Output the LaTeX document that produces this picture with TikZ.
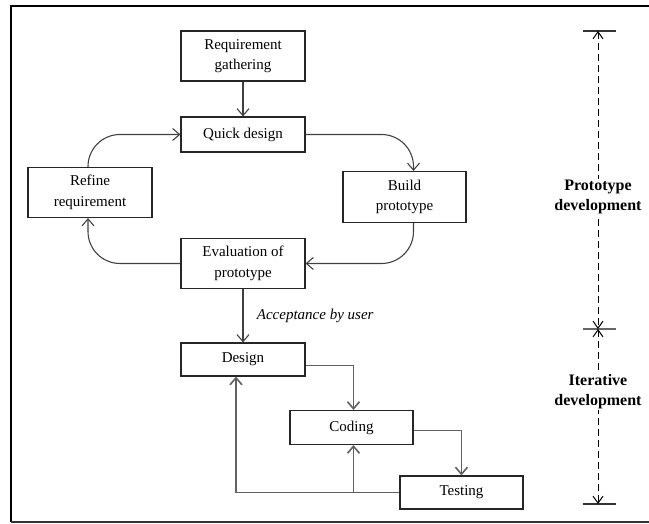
\documentclass[tikz,border=0pt]{standalone}
\usepackage{fontspec}
\setmainfont{Liberation Serif}
\usepackage{tikz}
\usetikzlibrary{arrows.meta}

\begin{document}
\begin{tikzpicture}[x=1pt,y=-1pt,
	box/.style={draw=black!85,line width=1.1pt,inner sep=0pt,align=center,font=\fontsize{15}{20.5}\selectfont},
	conn/.style={draw=black!75,line width=1.1pt,-{Straight Barb[length=7pt,width=12pt]}},
	iterconn/.style={draw=black!62,line width=1.6pt,-{Straight Barb[length=7pt,width=12pt]}},
	phase/.style={fill=white,inner sep=1pt,align=center,font=\fontsize{16}{20}\selectfont\bfseries}]
				\useasboundingbox (0,0) rectangle (649,524);
				\draw[line width=2.6pt] (649,6) -- (11,6) -- (11,522);
				\draw[line width=1.8pt,black!80] (11,522) -- (649,522);
				
				\node[box,minimum width=124,minimum height=50] (reqgat) at (243,56) {Requirement\\gathering};
				\node[box,minimum width=124,minimum height=35] (quick) at (243,134.5) {Quick design};
				\node[box,minimum width=124,minimum height=50] (refine) at (90,192.5) {Refine\\requirement};
				\node[box,minimum width=123,minimum height=51] (build) at (404.5,197) {Build\\prototype};
				\node[box,minimum width=124,minimum height=50] (eval) at (243,263.5) {Evaluation of\\prototype};
				
				\node[box,minimum width=124,minimum height=33] (design) at (243,359.5) {Design};
				\node[box,minimum width=123,minimum height=34] (coding) at (351.5,427.5) {Coding};
				\node[box,minimum width=123,minimum height=33] (testing) at (461.5,492.5) {Testing};
				
				\draw[conn] (reqgat) -- (quick);
				\draw[conn,rounded corners=32pt] (quick.east) -| ([xshift=9]build.north);
				\draw[conn,rounded corners=32pt] ([xshift=9]build.south) |- (eval.east);
				\draw[conn,rounded corners=32pt] (eval.west) -| ([xshift=-2]refine.south);
				\draw[conn,rounded corners=32pt] ([xshift=-2]refine.north) |- (quick.west);
				\draw[conn] (eval) -- (design) node[midway,right=10pt,font=\fontsize{15}{20}\selectfont\itshape] {Acceptance by user};
				
				\draw[iterconn] ([yshift=-6]design.east) -| ([xshift=2]coding.north);
				\draw[iterconn] ([yshift=-3]coding.east) -| (testing.north);
				\draw[iterconn] (testing.west) -| ([xshift=-7]design.south);
				\draw[iterconn] ([xshift=2]coding.south |- testing.west) -- ([xshift=2]coding.south);
				
				\coordinate (ptop) at (598,31);
				\coordinate (pmid) at (598,329);
				\coordinate (pbot) at (598,504);
				\draw[line width=1.2pt,black!80] ([xshift=-15]ptop) -- ([xshift=18]ptop);
				\draw[line width=1.2pt,black!60] ([xshift=-15]pmid) -- ([xshift=18]pmid);
				\draw[line width=1.2pt,black!80] ([xshift=-15]pbot) -- ([xshift=18]pbot);
				\draw[line width=1pt,dash pattern=on 7pt off 4pt,{Straight Barb[length=7pt,width=10pt]}-{Straight Barb[length=7pt,width=10pt]}] (ptop) -- (pmid);
				\draw[line width=1pt,dash pattern=on 7pt off 4pt,{Straight Barb[length=7pt,width=10pt]}-{Straight Barb[length=7pt,width=10pt]}] (pmid) -- (pbot);
				\node[phase] (protodev) at (598,197) {Prototype\\development};
				\node[phase] (iterdev) at (598,392) {Iterative\\development};
			\end{tikzpicture}
\end{document}
